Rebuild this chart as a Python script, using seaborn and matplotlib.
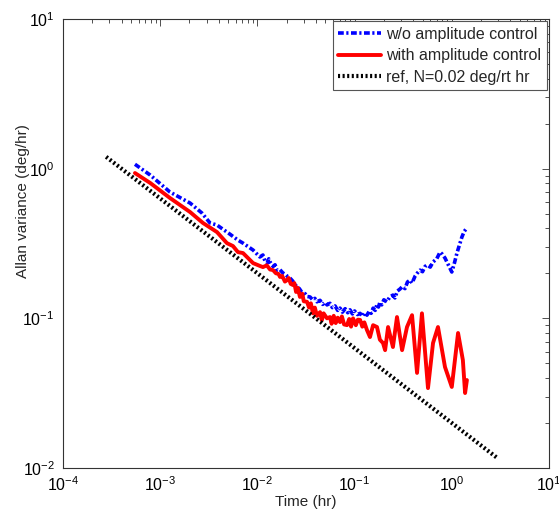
import matplotlib
matplotlib.use("Agg")
import matplotlib.pyplot as plt
import seaborn as sns
import pandas as pd
from matplotlib.ticker import LogLocator, NullFormatter

# ---- data ----
blue_t = [5.5e-4, 7.9e-4, 1.26e-3, 2.03e-3, 2.69e-3, 3.25e-3, 3.84e-3, 5.22e-3,
          6.31e-3, 7.11e-3, 9.02e-3, 0.0106, 0.0114, 0.0120, 0.0126, 0.0131,
          0.0135, 0.0145, 0.0152, 0.0159, 0.0170, 0.0183, 0.0195, 0.0205, 0.0216,
          0.0230, 0.0245, 0.0255, 0.0270, 0.0285, 0.0294, 0.0310, 0.0325, 0.0348,
          0.0370, 0.0390, 0.0410, 0.0441, 0.0470, 0.0500, 0.0520, 0.0558, 0.0590,
          0.0630, 0.0670, 0.0708, 0.0750, 0.0800, 0.0850, 0.0897, 0.0950, 0.100,
          0.107, 0.114, 0.120, 0.127, 0.134, 0.142, 0.148, 0.155, 0.163, 0.170,
          0.176, 0.182, 0.190, 0.200, 0.215, 0.230, 0.248, 0.260, 0.275, 0.293,
          0.310, 0.330, 0.350, 0.372, 0.390, 0.420, 0.440, 0.471, 0.500, 0.530,
          0.556, 0.600, 0.641, 0.700, 0.757, 0.800, 0.851, 0.920, 1.00, 1.06,
          1.13, 1.20, 1.27, 1.34, 1.40]
blue_y = [1.07, 0.906, 0.698, 0.589, 0.505, 0.434, 0.420, 0.365,
          0.333, 0.318, 0.286, 0.257, 0.265, 0.240, 0.234, 0.250,
          0.238, 0.222, 0.228, 0.210, 0.212, 0.201, 0.196, 0.190, 0.186,
          0.178, 0.168, 0.162, 0.158, 0.150, 0.148, 0.146, 0.140, 0.139,
          0.133, 0.136, 0.129, 0.132, 0.124, 0.128, 0.123, 0.126, 0.118,
          0.121, 0.113, 0.117, 0.110, 0.116, 0.109, 0.114, 0.107, 0.112,
          0.106, 0.108, 0.103, 0.109, 0.105, 0.112, 0.108, 0.117, 0.113, 0.124,
          0.119, 0.128, 0.123, 0.133, 0.129, 0.139, 0.143, 0.137, 0.152, 0.157,
          0.163, 0.158, 0.175, 0.180, 0.172, 0.192, 0.200, 0.210, 0.205, 0.222,
          0.227, 0.220, 0.238, 0.250, 0.277, 0.268, 0.253, 0.228, 0.204, 0.232,
          0.273, 0.310, 0.349, 0.380, 0.395]

red_t = [5.5e-4, 7.9e-4, 1.26e-3, 2.03e-3, 2.75e-3, 3.84e-3, 4.86e-3, 5.61e-3,
         6.31e-3, 7.11e-3, 9.02e-3, 0.0106, 0.0114, 0.0125, 0.0135, 0.0145,
         0.0155, 0.0165, 0.0171, 0.0180, 0.0192, 0.0202, 0.0210, 0.0220, 0.0232,
         0.0240, 0.0250, 0.0260, 0.0274, 0.0290, 0.0300, 0.0324, 0.0340, 0.0355,
         0.0373, 0.0390, 0.0410, 0.0441, 0.0460, 0.0480, 0.0520, 0.0558, 0.0580,
         0.0610, 0.0640, 0.0670, 0.0708, 0.0740, 0.0780, 0.0836, 0.0880, 0.0920,
         0.0964, 0.103, 0.108, 0.114, 0.120, 0.126, 0.134, 0.144, 0.155, 0.170,
         0.182, 0.196, 0.206, 0.221, 0.248, 0.273, 0.308, 0.346, 0.390, 0.439,
         0.493, 0.569, 0.641, 0.721, 0.851, 1.00, 1.16, 1.30, 1.37, 1.43]
red_y = [0.935, 0.802, 0.637, 0.513, 0.434, 0.377, 0.318, 0.304,
         0.277, 0.273, 0.234, 0.224, 0.220, 0.226, 0.212, 0.210,
         0.200, 0.198, 0.189, 0.192, 0.176, 0.180, 0.186, 0.170, 0.167,
         0.172, 0.150, 0.160, 0.139, 0.146, 0.130, 0.129, 0.118, 0.126,
         0.108, 0.118, 0.104, 0.110, 0.097, 0.108, 0.100, 0.102, 0.092,
         0.104, 0.093, 0.101, 0.0944, 0.103, 0.091, 0.0901, 0.099, 0.088,
         0.100, 0.090, 0.098, 0.0976, 0.088, 0.094, 0.0836, 0.0750, 0.090, 0.0875,
         0.072, 0.0684, 0.0613, 0.0875, 0.0643, 0.102, 0.0613, 0.0875, 0.105, 0.0432,
         0.108, 0.0342, 0.0684, 0.0875, 0.0473, 0.0348, 0.0798, 0.0526, 0.0317, 0.0387]

ref_t = [1 / 3600, 3.0]
ref_y = [1.20, 0.01155]

labels = ["w/o amplitude control", "with amplitude control", "ref, N=0.02 deg/rt hr"]

# ---- plot ----
sns.set_style("white")
plt.rcParams["font.family"] = ["Liberation Sans", "DejaVu Sans"]
plt.rcParams["mathtext.default"] = "regular"

fig = plt.figure(figsize=(5.59, 5.12), dpi=100)
ax = fig.add_axes([0.1127, 0.0859, 0.8694, 0.877])
ax.set_xscale("log")
ax.set_yscale("log")

df_b = pd.DataFrame({"t": blue_t, "y": blue_y})
df_r = pd.DataFrame({"t": red_t, "y": red_y})
df_ref = pd.DataFrame({"t": ref_t, "y": ref_y})

sns.lineplot(data=df_b, x="t", y="y", ax=ax, color="#0000ff", linewidth=2.6,
             linestyle=(0, (1.6, 0.7, 0.6, 0.7)), sort=False, estimator=None,
             label=labels[0])
sns.lineplot(data=df_r, x="t", y="y", ax=ax, color="#ff0000", linewidth=2.8,
             sort=False, estimator=None, label=labels[1])
sns.lineplot(data=df_ref, x="t", y="y", ax=ax, color="black", linewidth=3.0,
             linestyle=(0, (0.5, 0.6)), sort=False, estimator=None, label=labels[2])

ax.set_xlim(1e-4, 10)
ax.set_ylim(1e-2, 10)
ax.set_xlabel("Time (hr)", fontsize=11, labelpad=1)
ax.set_ylabel("Allan variance (deg/hr)", fontsize=11)
ax.yaxis.set_label_coords(-0.067, 0.595)

for axis in (ax.xaxis, ax.yaxis):
    axis.set_major_locator(LogLocator(base=10, numticks=10))
    axis.set_minor_locator(LogLocator(base=10, subs=range(2, 10), numticks=20))
    axis.set_minor_formatter(NullFormatter())
ax.tick_params(which="both", direction="in", top=True, right=True, colors="#333333",
               labelcolor="black", labelsize=11.5, width=0.6)
ax.tick_params(which="major", length=5)
ax.tick_params(which="minor", length=3)
ax.tick_params(axis="x", which="major", pad=5)
ax.tick_params(axis="y", which="major", pad=6)
for s in ax.spines.values():
    s.set_color("#333333")
    s.set_linewidth(0.8)

leg = ax.legend(loc="upper right", fontsize=11.5, fancybox=False, framealpha=1,
                edgecolor="#555555", borderaxespad=0.15, handlelength=2.7,
                borderpad=0.35, labelspacing=0.4, handletextpad=0.3)
leg.get_frame().set_linewidth(0.8)

fig.savefig("out.png", dpi=100)
